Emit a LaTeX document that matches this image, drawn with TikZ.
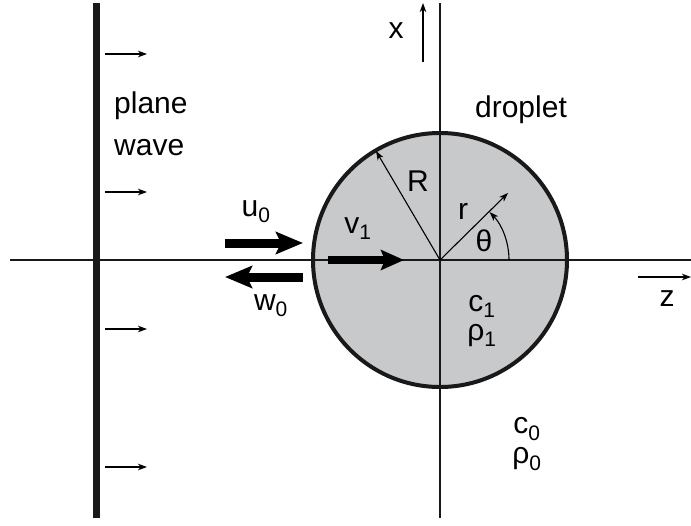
\documentclass[tikz,border=0pt]{standalone}
\usepackage{fontspec}
\setmainfont{Liberation Sans}
\usetikzlibrary{arrows.meta}
\begin{document}
\begin{tikzpicture}[x=1pt,y=-1pt,
  lbl/.style={inner sep=0pt,font=\fontsize{30}{34}\selectfont},
  axis/.style={line width=1.4pt,draw=black!90},
  thinarrow/.style={line width=1.3pt,-{Stealth[length=9pt,width=6.5pt,inset=2.5pt]}},
  fatarrow/.style={line width=9pt,-{Stealth[length=27pt,width=22pt,inset=5pt]}},
  midarrow/.style={line width=8pt,-{Stealth[length=23pt,width=20pt,inset=4pt]}}]
\useasboundingbox (0,0) rectangle (691,525);
% droplet
\node[circle,draw=black!90,line width=4pt,fill={rgb,255:red,200;green,201;blue,203},minimum size=254pt,inner sep=0pt] (drop) at (440,260) {};
\coordinate (O) at (440,260);
% axes
\coordinate (zl) at (10,260); \coordinate (zr) at (691,260);
\coordinate (xt) at (440,3); \coordinate (xb) at (440,518);
\draw[axis] (zl) -- (zr);
\draw[axis] (xt) -- (xb);
% plane wave
\coordinate (pt) at (96.5,3); \coordinate (pb) at (96.5,518);
\draw[line width=7pt,draw=black!90] (pt) -- (pb);
\foreach \yy/\n in {54/a,192/b,329/c,467/d}{
  \coordinate (s\n) at (105,\yy); \coordinate (e\n) at (147,\yy);
  \draw[thinarrow] (s\n) -- (e\n);
}
\node[lbl,anchor=base west] (plane) at (114,113) {plane};
\node[lbl,anchor=base west] (wave) at (114,155) {wave};
% axis direction arrows
\coordinate (xa1) at (423,62); \coordinate (xa2) at (423,3);
\draw[thinarrow] (xa1) -- (xa2);
\node[lbl] (xlab) at (396,31) {x};
\coordinate (za1) at (638,277); \coordinate (za2) at (691,277);
\draw[thinarrow] (za1) -- (za2);
\node[lbl] (zlab) at (667,299) {z};
% labels
\node[lbl] (dl) at (521,110) {droplet};
% radii
\coordinate (Rend) at (376,151);
\draw[thinarrow,line width=1.1pt] (O) -- (Rend);
\node[lbl] (Rlab) at (418,181) {R};
\coordinate (rend) at (508,193);
\draw[thinarrow,line width=1.1pt] (O) -- (rend);
\node[lbl] (rlab) at (463,211) {r};
\draw[thinarrow,line width=1.1pt] (509,260) arc[start angle=0,end angle=-44,radius=69];
\node[lbl] (th) at (484,241) {θ};
% velocity arrows
\coordinate (v1s) at (328,260); \coordinate (v1e) at (404,260);
\draw[midarrow] (v1s) -- (v1e);
\node[lbl] (v1) at (358,229) {v\textsubscript{1}};
\coordinate (u0s) at (225,243); \coordinate (u0e) at (303,243);
\draw[fatarrow] (u0s) -- (u0e);
\node[lbl] (u0) at (256,212) {u\textsubscript{0}};
\coordinate (w0s) at (303,277); \coordinate (w0e) at (225,277);
\draw[fatarrow] (w0s) -- (w0e);
\node[lbl] (w0) at (271,306) {w\textsubscript{0}};
% media
\node[lbl] (c1) at (482,306) {c\textsubscript{1}};
\node[lbl] (r1) at (482,336) {ρ\textsubscript{1}};
\node[lbl] (c0) at (527,429) {c\textsubscript{0}};
\node[lbl] (r0) at (527,459) {ρ\textsubscript{0}};
\end{tikzpicture}
\end{document}
